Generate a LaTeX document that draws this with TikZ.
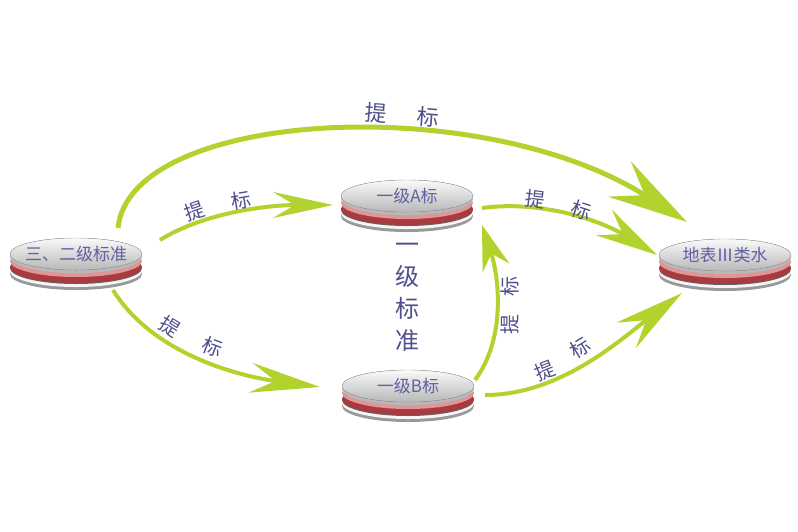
\documentclass[tikz,border=0pt]{standalone}
\usepackage{fontspec}
\usepackage{tikz}
\usetikzlibrary{arrows.meta,shapes.geometric}
\setmainfont{Noto Sans CJK SC}
\definecolor{jtgreen}{RGB}{178,210,46}
\definecolor{tbblue}{RGB}{80,80,140}
\definecolor{pblue}{RGB}{96,96,162}
\definecolor{redlt}{RGB}{222,150,150}
\definecolor{reddk}{RGB}{170,58,62}

\begin{document}
\begin{tikzpicture}[x=1pt,y=-1pt,
    disc/.style={ellipse,minimum width=132pt,minimum height=32pt,inner sep=0pt,
      font=\fontsize{17}{17}\selectfont,text=pblue},
    flow/.style={draw=jtgreen,line width=4pt},
    tb/.style={font=\fontsize{20}{20}\selectfont,text=tbblue}]
  \fill[white] (0,0) rectangle (798,531);
  \useasboundingbox (0,0) rectangle (798,531);
  % discs
  \foreach \nm/\cx/\cy/\txt in {sanji/76/254/{三、二级标准},yijiA/407/196/{一级A标},
      yijiB/408/386/{一级B标},dibiao/725/255/{地表Ⅲ类水}}{
    \foreach \dy/\col in {20/black!40,17/black!4,14/black!62,13/reddk,7/redlt,3/black!28}
      \fill[\col] (\cx,{\cy+\dy}) ellipse [x radius=66,y radius=16];
    \fill[top color=black!2,bottom color=black!28,draw=black!35] (\cx,\cy) ellipse [x radius=66,y radius=16];
    \node[disc] (\nm) at (\cx,\cy) {\txt};
  }
  \node[tb,font=\fontsize{24}{32}\selectfont,align=center] (yijibz) at (407,297) {一\\级\\标\\准};
  % arrows
  \draw[flow,line width=5pt,-{Stealth[length=80pt,width=42pt,inset=30pt]}] ([shift={(42,-26)}]sanji.center)
    .. controls +(12,-118) and +(-207,-132) .. ([shift={(-38,-33)}]dibiao.center)
    node[tb,font=\fontsize{22}{22}\selectfont,pos=.6,sloped,above=2pt] {提\hspace{30pt}标};
  \draw[flow,-{Stealth[length=60pt,width=26pt,inset=22pt]}] ([shift={(84,-14)}]sanji.center)
    .. controls +(40,-25) and +(-73,0) .. ([shift={(-74,9)}]yijiA.center)
    node[tb,pos=.28,sloped,above=-3pt] {提} node[tb,pos=.55,sloped,above=-3pt] {标};
  \draw[flow,-{Stealth[length=70pt,width=30pt,inset=25pt]}] ([shift={(37,36)}]sanji.center)
    .. controls +(37,60) and +(-90,-12) .. ([shift={(-88,1)}]yijiB.center)
    node[tb,pos=.33,sloped,above=0pt] {提} node[tb,pos=.55,sloped,above=0pt] {标};
  \draw[flow,-{Stealth[length=62pt,width=30pt,inset=22pt]}] ([shift={(75,12)}]yijiA.center)
    .. controls +(58,-8) and +(-57,-35) .. ([shift={(-68,0)}]dibiao.center)
    node[tb,pos=.3,sloped,above=-6pt] {提} node[tb,pos=.55,sloped,above=-6pt] {标};
  \draw[flow,-{Stealth[length=70pt,width=32pt,inset=25pt]}] ([shift={(77,9)}]yijiB.center)
    .. controls +(75,0) and +(-62,47) .. ([shift={(-43,38)}]dibiao.center)
    node[tb,pos=.3,sloped,above=-3pt] {提} node[tb,pos=.5,sloped,above=2pt] {标};
  \draw[flow,-{Stealth[length=45pt,width=28pt,inset=15pt]}] ([shift={(67,-6)}]yijiB.center)
    .. controls +(30,-40) and +(18,55) .. ([shift={(75,29)}]yijiA.center)
    node[tb,pos=.4,rotate=90,anchor=north] {提} node[tb,pos=.63,rotate=90,anchor=north] {标};
\end{tikzpicture}
\end{document}
